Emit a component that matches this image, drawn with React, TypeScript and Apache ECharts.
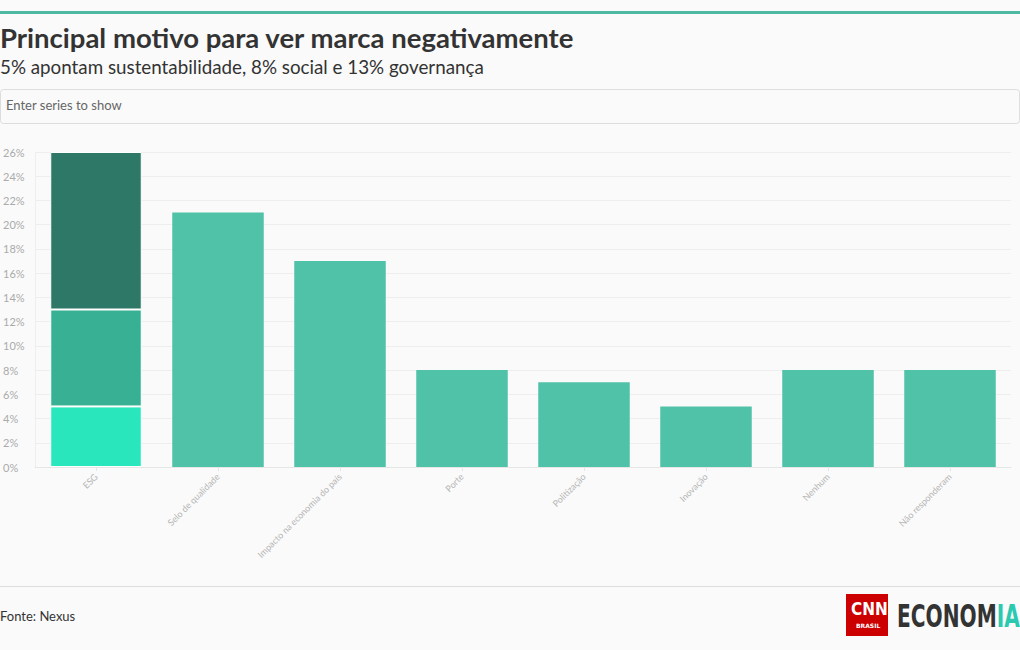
import React, { useEffect, useRef } from "react";
import * as echarts from "echarts";

const categories = [
  "ESG",
  "Selo de qualidade",
  "Impacto na economia do país",
  "Porte",
  "Politização",
  "Inovação",
  "Nenhum",
  "Não responderam",
];
const sustentabilidade = [5, null, null, null, null, null, null, null];
const social = [8, null, null, null, null, null, null, null];
const governanca = [13, null, null, null, null, null, null, null];
const motivos = [null, 21, 17, 8, 7, 5, 8, 8];
const yTicks = [0, 2, 4, 6, 8, 10, 12, 14, 16, 18, 20, 22, 24, 26];

const FONT = "Lato, 'Noto Sans', sans-serif";

export default function App() {
  const ref = useRef<HTMLDivElement>(null);
  useEffect(() => {
    document.body.style.margin = "0";
    document.body.style.background = "#fafafa";
    const chart = echarts.init(ref.current!, null, { renderer: "svg" });
    const barBase = {
      type: "bar",
      stack: "total",
      barWidth: "75%",
      itemStyle: { borderColor: "#ffffff", borderWidth: 1 },
      emphasis: { disabled: true },
    };
    chart.setOption({
      animation: false,
      backgroundColor: "#fafafa",
      textStyle: { fontFamily: FONT },
      title: [
        {
          text: "Principal motivo para ver marca negativamente",
          left: 0,
          top: 21,
          padding: 0,
          textStyle: { fontSize: 27.5, lineHeight: 32, fontWeight: "bold", color: "#333333", fontFamily: FONT },
        },
        {
          text: "5% apontam sustentabilidade, 8% social e 13% governança",
          left: 0,
          top: 55,
          padding: 0,
          textStyle: { fontSize: 18.8, lineHeight: 22, fontWeight: "normal", color: "#333333", fontFamily: FONT },
        },
      ],
      grid: { left: 32, right: 9, top: 152, bottom: 183, containLabel: false },
      xAxis: {
        type: "category",
        data: categories,
        axisLine: { show: true, lineStyle: { color: "#e6e6e6" } },
        axisTick: { show: true, alignWithLabel: true, length: 4, lineStyle: { color: "#e6e6e6" } },
        axisLabel: { rotate: 45, fontSize: 9, color: "#b4b4b4", margin: 8, interval: 0, fontFamily: FONT },
      },
      yAxis: {
        type: "value",
        min: 0,
        max: yTicks[yTicks.length - 1],
        interval: 2,
        axisLine: { show: true, lineStyle: { color: "#eeeeee" } },
        axisTick: { show: false },
        splitLine: { lineStyle: { color: "#eeeeee" } },
        axisLabel: {
          formatter: (v: number) => v + "%",
          fontSize: 11,
          color: "#aaaaaa",
          align: "left",
          margin: 32,
          fontFamily: FONT,
        },
      },
      series: [
        { ...barBase, name: "Sustentabilidade", data: sustentabilidade, itemStyle: { ...barBase.itemStyle, color: "#2ae6bd" } },
        { ...barBase, name: "Social", data: social, itemStyle: { ...barBase.itemStyle, color: "#38b094" } },
        { ...barBase, name: "Governança", data: governanca, itemStyle: { ...barBase.itemStyle, color: "#2e7867" } },
        { ...barBase, name: "Motivo", data: motivos, itemStyle: { color: "#4fc2a8" } },
      ],
      graphic: [
        { type: "rect", left: 0, top: 11, shape: { width: 1020, height: 3 }, style: { fill: "#4db9a0" } },
        {
          type: "rect",
          left: 0,
          top: 89,
          shape: { width: 1019, height: 34, r: 3 },
          style: { fill: "#fafafa", stroke: "#dddddd", lineWidth: 1 },
        },
        {
          type: "text",
          left: 6,
          top: 98,
          style: { text: "Enter series to show", fill: "#666666", fontSize: 13, fontFamily: FONT },
        },
        { type: "rect", left: 0, top: 586, shape: { width: 1020, height: 1 }, style: { fill: "#dddddd" } },
        {
          type: "text",
          left: 0,
          top: 609,
          style: { text: "Fonte: Nexus", fill: "#333333", fontSize: 13, fontFamily: FONT },
        },
        { type: "rect", left: 846, top: 594, shape: { width: 42, height: 42 }, style: { fill: "#cc0000" } },
        {
          type: "text",
          left: 851,
          top: 600,
          style: { text: "CNN", fill: "#ffffff", fontSize: 17, fontWeight: "bold", fontFamily: "'DejaVu Sans Condensed', sans-serif" },
        },
        {
          type: "text",
          left: 856,
          top: 622,
          style: { text: "BRASIL", fill: "#ffffff", fontSize: 6, fontWeight: "bold", fontFamily: "'DejaVu Sans', sans-serif" },
        },
        {
          type: "text",
          x: 897,
          y: 600,
          scaleX: 0.7,
          style: {
            text: "{a|ECONOM}{b|IA}",
            rich: {
              a: { fill: "#333333", fontSize: 32, fontWeight: "bold", fontFamily: "'DejaVu Sans Condensed', sans-serif" },
              b: { fill: "#2ac9b0", fontSize: 32, fontWeight: "bold", fontFamily: "'DejaVu Sans Condensed', sans-serif" },
            },
          },
        },
      ],
    });
    return () => chart.dispose();
  }, []);
  return <div ref={ref} style={{ width: 1020, height: 650 }} />;
}
